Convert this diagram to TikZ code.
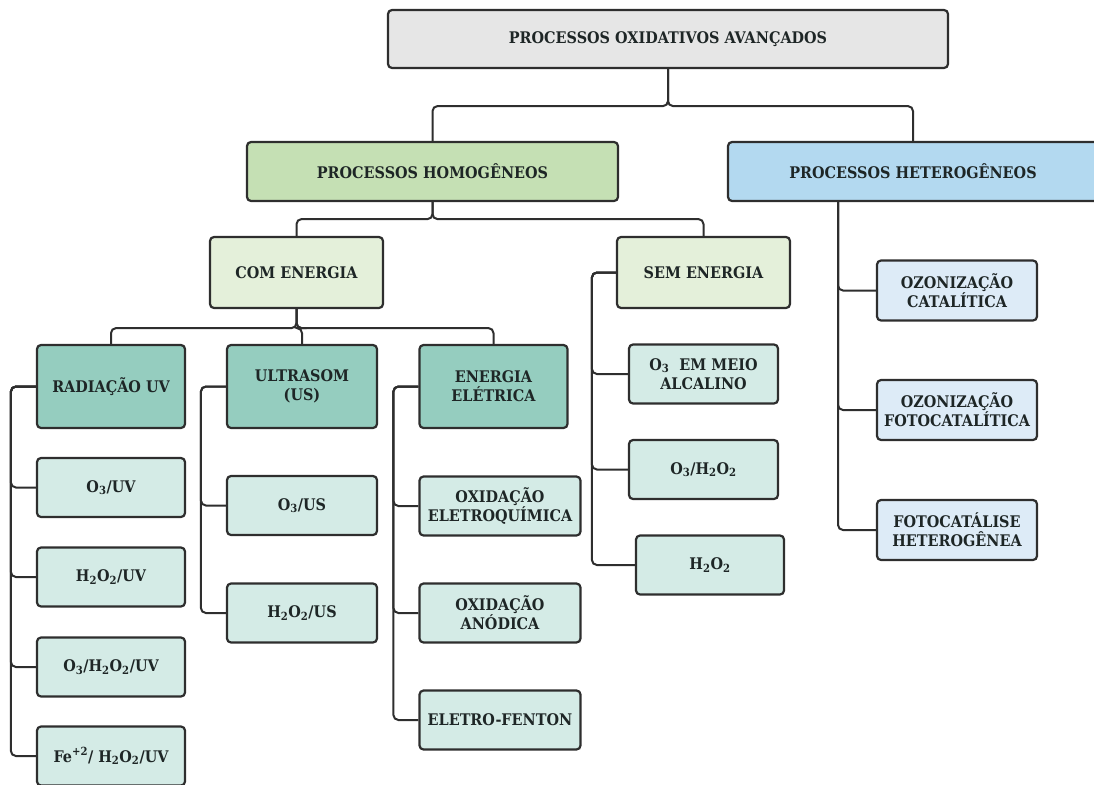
\documentclass[tikz,border=0pt]{standalone}
\usepackage{fontspec}
\setmainfont{DejaVu Serif}[FakeStretch=0.9]
\usepackage{xcolor}
\usepackage{tikz}
\usetikzlibrary{
    positioning,
    calc,
}
\definecolor{linegray}{HTML}{2E2E2E}
\definecolor{textdark}{HTML}{1E2626}
\definecolor{topgray}{HTML}{E6E6E6}
\definecolor{homgreen}{HTML}{C5E0B4}
\definecolor{hetblue}{HTML}{B3D9F0}
\definecolor{palegreen}{HTML}{E4F0DA}
\definecolor{tealdark}{HTML}{95CDBF}
\definecolor{teallight}{HTML}{D4EBE6}
\definecolor{paleblue}{HTML}{DDEBF7}

\begin{document}
\begin{tikzpicture}[x=1pt, y=-1pt,
    box/.style={rectangle, draw=linegray, line width=2.2pt, rounded corners=4pt, align=center,
                font=\fontsize{16}{19}\selectfont\bfseries, text=textdark, inner sep=2pt},
    top box/.style={box, fill=topgray, minimum width=560pt, minimum height=58pt},
    homog box/.style={box, fill=homgreen, minimum width=371pt, minimum height=59pt},
    heterog box/.style={box, fill=hetblue, minimum width=370pt, minimum height=59pt},
    energy box/.style={box, fill=palegreen, minimum width=173pt, minimum height=71pt},
    source box/.style={box, fill=tealdark, minimum width=148pt, minimum height=83pt},
    item box/.style={box, fill=teallight, minimum width=148pt, minimum height=59pt},
    het item/.style={box, fill=paleblue, minimum width=160pt, minimum height=60pt},
    link/.style={draw=linegray, line width=2pt, rounded corners=5pt},
]
    \useasboundingbox (0,0) rectangle (1094,784);

    % Main levels
    \node[top box] (poa) at (668,39) {PROCESSOS OXIDATIVOS AVANÇADOS};
    \node[homog box] (homog) at (432.5,171.5) {PROCESSOS HOMOGÊNEOS};
    \node[heterog box] (heterog) at (913,171.5) {PROCESSOS HETEROGÊNEOS};
    \node[energy box] (com) at (296.5,272.5) {COM ENERGIA};
    \node[energy box] (sem) at (703.5,272.5) {SEM ENERGIA};

    % Energy sources
    \node[source box] (uv) at (111,386.5) {RADIAÇÃO UV};
    \node[source box, minimum width=150pt] (us) at (302,386.5) {ULTRASOM\\(US)};
    \node[source box] (elec) at (493.5,386.5) {ENERGIA\\ELÉTRICA};

    % Radiacao UV
    \node[item box] (o3uv) at (111,487.5) {O\textsubscript{3}/UV};
    \node[item box] (h2o2uv) at (111,577) {H\textsubscript{2}O\textsubscript{2}/UV};
    \node[item box] (o3h2o2uv) at (111,667) {O\textsubscript{3}/H\textsubscript{2}O\textsubscript{2}/UV};
    \node[item box] (feuv) at (111,756) {Fe\textsuperscript{+2}/ H\textsubscript{2}O\textsubscript{2}/UV};

    % Ultrasom
    \node[item box, minimum width=150pt] (o3us) at (302,505.5) {O\textsubscript{3}/US};
    \node[item box, minimum width=150pt] (h2o2us) at (302,613) {H\textsubscript{2}O\textsubscript{2}/US};

    % Energia eletrica
    \node[item box, minimum width=161pt] (oxel) at (500,506) {OXIDAÇÃO\\ELETROQUÍMICA};
    \node[item box, minimum width=161pt] (oxan) at (500,613) {OXIDAÇÃO\\ANÓDICA};
    \node[item box, minimum width=161pt] (efenton) at (500,720) {ELETRO-FENTON};

    % Sem energia
    \node[item box, minimum width=149pt] (o3alc) at (703.5,374) {O\textsubscript{3}\ \ EM MEIO\\ALCALINO};
    \node[item box, minimum width=149pt] (o3h2o2) at (703.5,469.5) {O\textsubscript{3}/H\textsubscript{2}O\textsubscript{2}};
    \node[item box] (h2o2) at (710,565) {H\textsubscript{2}O\textsubscript{2}};

    % Heterogeneos
    \node[het item] (ozcat) at (957,290.5) {OZONIZAÇÃO\\CATALÍTICA};
    \node[het item] (ozfoto) at (957,410) {OZONIZAÇÃO\\FOTOCATALÍTICA};
    \node[het item] (fotohet) at (957,530) {FOTOCATÁLISE\\HETEROGÊNEA};

    % Tree links
    \draw[link] (poa.south) -- ++(0,37) -| (homog.north);
    \draw[link] (poa.south) -- ++(0,37) -| (heterog.north);
    \draw[link] (homog.south) -- ++(0,17) -| (com.north);
    \draw[link] (homog.south) -- ++(0,17) -| (sem.north);
    \draw[link] (com.south) -- ++(0,19) -| (uv.north);
    \draw[link] (com.south) -- ++(0,19) -| (us.north);
    \draw[link] (com.south) -- ++(0,19) -| (elec.north);

    % Side branches
    \foreach \item in {o3uv, h2o2uv, o3h2o2uv, feuv}
        \draw[link] (uv.west) -- ++(-25,0) |- (\item.west);
    \foreach \item in {o3us, h2o2us}
        \draw[link] (us.west) -- ++(-25,0) |- (\item.west);
    \foreach \item in {oxel, oxan, efenton}
        \draw[link] (elec.west) -- ++(-25,0) |- (\item.west);
    \foreach \item in {o3alc, o3h2o2, h2o2}
        \draw[link] (sem.west) -- ++(-24,0) |- (\item.west);
    \foreach \item in {ozcat, ozfoto, fotohet}
        \draw[link] ([xshift=-75pt]heterog.south) |- (\item.west);
\end{tikzpicture}
\end{document}
